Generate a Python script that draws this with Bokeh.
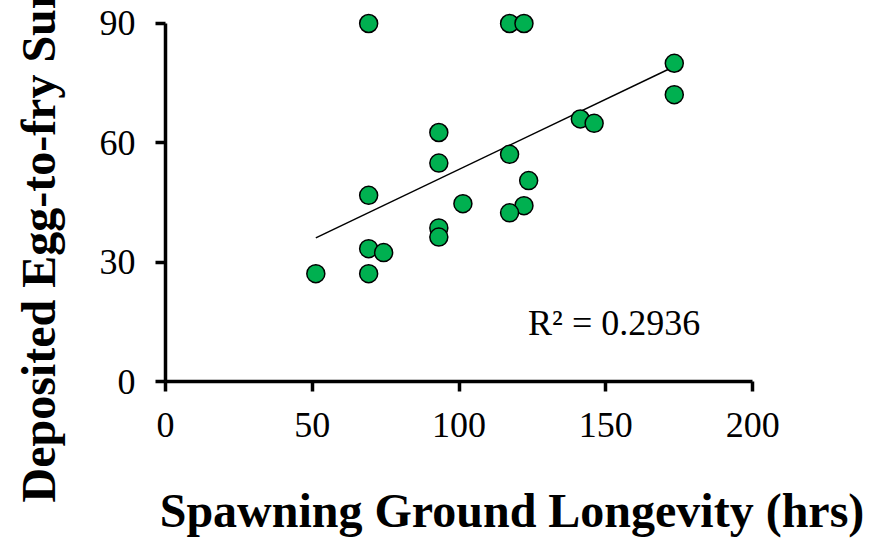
from bokeh.plotting import figure
from bokeh.models import Label, FixedTicker, Range1d, Title
from bokeh.embed import file_html
from bokeh.resources import INLINE

# Data
longevity_hrs = [69.2, 117.2, 122.1, 173.3, 173.3, 141.3, 146.0, 93.1, 93.1, 117.2,
                 123.7, 69.2, 101.3, 122.1, 117.2, 93.1, 93.1, 69.2, 74.3, 51.2, 69.2]
survival_pct = [90.0, 90.0, 90.0, 80.0, 72.1, 66.0, 64.9, 62.6, 54.9, 57.1,
                50.5, 46.8, 44.7, 44.2, 42.4, 38.6, 36.3, 33.4, 32.4, 27.1, 27.1]
trend_x = [51.2, 173.3]
trend_y = [36.1, 79.2]
x_ticks = [0, 50, 100, 150, 200]
y_ticks = [0, 30, 60, 90]
r2_text = "R\u00b2 = 0.2936"
x_title = "Spawning Ground Longevity (hrs)"
y_title = "Deposited Egg-to-fry Survival (%)"

SERIF = "Liberation Serif"

p = figure(width=872, height=541, output_backend="svg", toolbar_location=None,
           x_range=Range1d(0, 236.05), y_range=Range1d(0, 95.78),
           min_border_left=164, min_border_right=14, min_border_top=0,
           min_border_bottom=160)
p.outline_line_color = None
p.grid.visible = False
p.background_fill_color = "white"
p.border_fill_color = "white"

for ax, ticks, bnds in ((p.xaxis, x_ticks, (0, 200)), (p.yaxis, y_ticks, (0, 90))):
    ax.ticker = FixedTicker(ticks=ticks)
    ax.bounds = bnds
    ax.axis_line_width = 3.5
    ax.axis_line_color = "black"
    ax.major_tick_line_width = 3.5
    ax.major_tick_line_color = "black"
    ax.major_tick_out = 10
    ax.major_tick_in = 0
    ax.minor_tick_line_color = None
    ax.major_label_text_font = SERIF
    ax.major_label_text_font_size = "36px"
    ax.major_label_text_color = "black"

p.xaxis.major_label_standoff = 21
p.yaxis.major_label_standoff = 20

# spacer so the rotated title can sit further left
p.yaxis.axis_label = " "
p.yaxis.axis_label_text_font_size = "1px"
p.yaxis.axis_label_standoff = 19

p.xaxis.axis_label = x_title
p.xaxis.axis_label_text_font = SERIF
p.xaxis.axis_label_text_font_style = "bold"
p.xaxis.axis_label_text_font_size = "48px"
p.xaxis.axis_label_text_color = "black"
p.xaxis.axis_label_standoff = 44

p.line(trend_x, trend_y, line_color="black", line_width=1.5)
p.scatter(longevity_hrs, survival_pct, size=18, fill_color="#00B050",
          line_color="black", line_width=1.5)

p.add_layout(Label(x=123.5, y=14.8, text=r2_text, text_font=SERIF,
                   text_font_size="36px", text_color="black",
                   text_baseline="alphabetic", text_align="left"))

ytitle = Title(text=y_title, align="left", offset=-121, standoff=18,
               text_font=SERIF, text_font_style="bold", text_font_size="48px",
               text_color="black")
p.add_layout(ytitle, "left")

open("out.html", "w").write(file_html(p, INLINE))
